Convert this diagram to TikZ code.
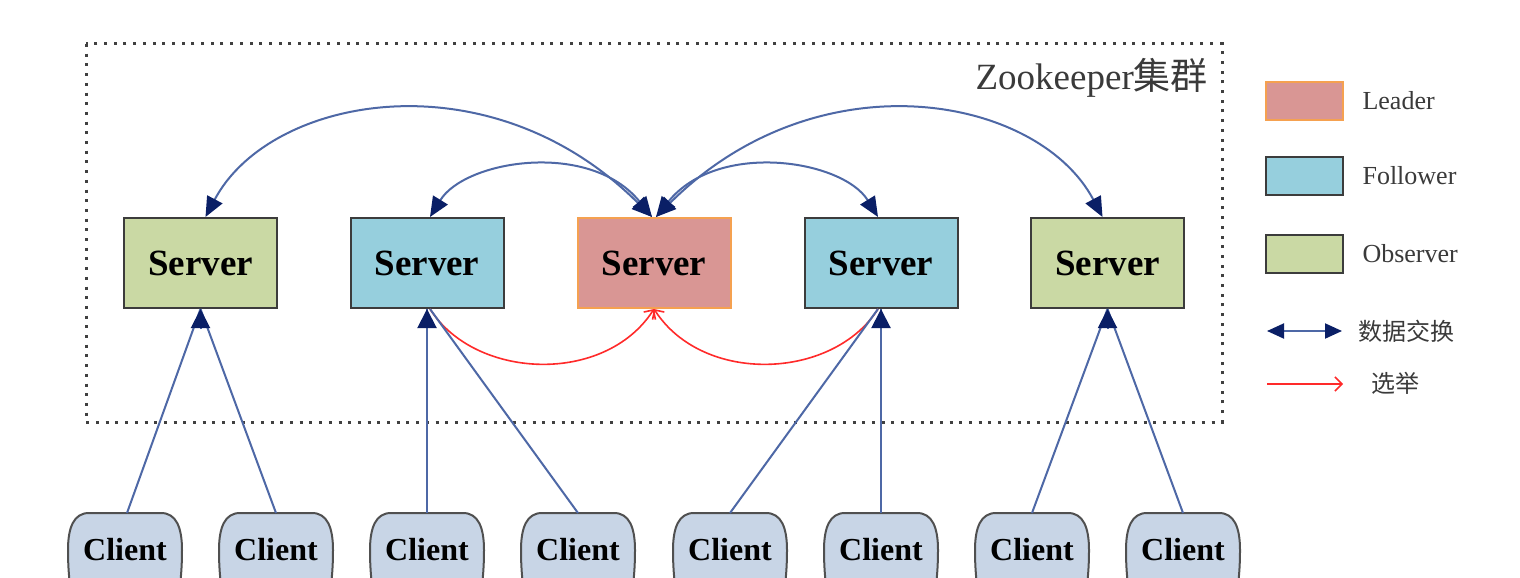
\documentclass[tikz,border=0pt]{standalone}
\usepackage{fontspec}
\setmainfont{Liberation Serif}
\newfontfamily\cjk{Noto Sans CJK SC}
\usetikzlibrary{arrows.meta}
\definecolor{obsgreen}{HTML}{CAD9A4}
\definecolor{folblue}{HTML}{96CFDD}
\definecolor{leadred}{HTML}{D99694}
\definecolor{leadorange}{HTML}{F5A150}
\definecolor{boxedge}{HTML}{3C3C3C}
\definecolor{clientfill}{HTML}{C8D5E6}
\definecolor{lineblue}{HTML}{4E68A6}
\definecolor{tipnavy}{HTML}{0A1F66}
\definecolor{textgray}{HTML}{3A3A3A}
\definecolor{electred}{HTML}{FF2A2A}
\begin{document}
\begin{tikzpicture}[x=1pt,y=-1pt,
  server/.style={draw=boxedge,line width=2pt,minimum width=153pt,minimum height=90pt,inner sep=0pt,font=\fontsize{37}{40}\selectfont\bfseries},
  client/.style={minimum width=114pt,text height=47pt,text depth=60pt,inner xsep=0pt,inner ysep=0pt,anchor=north,font=\fontsize{32}{34}\selectfont\bfseries},
  clientshape/.style={draw=boxedge!90,line width=2pt,fill=clientfill},
  dx/.style={draw=lineblue,line width=2pt,{Triangle[length=20pt,width=17pt,color=tipnavy]}-{Triangle[length=20pt,width=17pt,color=tipnavy]}},
  clline/.style={draw=lineblue,line width=2pt},
  cltip/.style={draw=lineblue,line width=2pt,-{Triangle[length=19pt,width=19pt,color=tipnavy]}},
  elect/.style={draw=electred,line width=1.6pt,-{Straight Barb[length=7pt,width=14pt]}},
  dotframe/.style={draw=black!75,line width=3pt,dash pattern=on 3pt off 6.7pt},
  legbox/.style={line width=2pt,minimum width=77pt,minimum height=38pt,inner sep=0pt},
  legtext/.style={anchor=west,text=textgray,font=\fontsize{26}{28}\selectfont},
  legcjk/.style={anchor=west,text=textgray,font=\cjk\fontsize{24}{26}\selectfont},
]
\useasboundingbox (0,0) rectangle (1520,578);
\clip (0,0) rectangle (1520,578);
\fill[white] (0,0) rectangle (1520,578);

% cluster frame
\draw[dotframe] (86,44) rectangle (1222,422);
\node[anchor=east,text=textgray,font=\fontsize{37}{40}\selectfont,inner sep=0pt] (title) at (1208,78) {Zookeeper{\cjk 集群}};

% servers
\node[server,fill=obsgreen] (s1) at (200.5,263) {Server};
\node[server,fill=folblue] (s2) at (427,263) {Server};
\node[server,fill=leadred,draw=leadorange] (s3) at (654,263) {Server};
\node[server,fill=folblue] (s4) at (881,263) {Server};
\node[server,fill=obsgreen] (s5) at (1107.5,263) {Server};

% client outlines
\foreach \cx in {125,276,427,578,730,881,1032,1183}{
  \filldraw[clientshape] ({\cx-36},513) -- ({\cx+36},513)
    .. controls ({\cx+51},513) and ({\cx+57},527) .. ({\cx+57},550)
    .. controls ({\cx+57},572) and ({\cx+55},592) .. ({\cx+50},612)
    -- ({\cx-50},612)
    .. controls ({\cx-55},592) and ({\cx-57},572) .. ({\cx-57},550)
    .. controls ({\cx-57},527) and ({\cx-51},513) .. cycle;
}
% clients
\node[client] (c1) at (125,513) {Client};
\node[client] (c2) at (276,513) {Client};
\node[client] (c3) at (427,513) {Client};
\node[client] (c4) at (578,513) {Client};
\node[client] (c5) at (730,513) {Client};
\node[client] (c6) at (881,513) {Client};
\node[client] (c7) at (1032,513) {Client};
\node[client] (c8) at (1183,513) {Client};

% data exchange arcs
\draw[dx] ([xshift=5pt]s1.north) .. controls (270,95) and (490,55) .. ([xshift=-2pt]s3.north);
\draw[dx] ([xshift=3pt]s2.north) .. controls (465,160) and (590,140) .. ([xshift=-2pt]s3.north);
\draw[dx] ([xshift=2pt]s3.north) .. controls (718,140) and (843,160) .. ([xshift=-3pt]s4.north);
\draw[dx] ([xshift=2pt]s3.north) .. controls (818,55) and (1038,95) .. ([xshift=-5pt]s5.north);

% election arcs
\draw[elect] ([xshift=3pt]s2.south) .. controls (475,380) and (605,385) .. (s3.south);
\draw[elect] ([xshift=-3pt]s4.south) .. controls (833,380) and (703,385) .. (s3.south);

% client connections
\draw[clline] ([xshift=2pt]c1.north) -- (s1.south);
\draw[clline] (c2.north) -- (s1.south);
\draw[clline] (c3.north) -- (s2.south);
\draw[clline] (c4.north) -- ([xshift=3pt]s2.south);
\draw[clline] (c5.north) -- ([xshift=-3pt]s4.south);
\draw[clline] (c6.north) -- (s4.south);
\draw[clline] (c7.north) -- (s5.south);
\draw[clline] (c8.north) -- (s5.south);
\foreach \s in {s1,s2,s4,s5}{
  \draw[cltip] ([yshift=-20pt]\s.south) -- (\s.south);
}

% legend
\node[legbox,fill=leadred,draw=leadorange] (lb1) at (1304.5,101) {};
\node[legtext] (lt1) at (1359,101) {Leader};
\node[legbox,fill=folblue,draw=boxedge] (lb2) at (1304.5,176) {};
\node[legtext] (lt2) at (1359,176) {Follower};
\node[legbox,fill=obsgreen,draw=boxedge] (lb3) at (1304.5,254) {};
\node[legtext] (lt3) at (1359,254) {Observer};
\coordinate (la1) at (1267,331);
\coordinate (la2) at (1342,331);
\draw[draw=lineblue,line width=2pt,{Triangle[length=17pt,width=15pt,color=tipnavy]}-{Triangle[length=17pt,width=15pt,color=tipnavy]}] (la1) -- (la2);
\node[legcjk] (lt4) at (1355,331) {数据交换};
\coordinate (lr1) at (1267,384);
\coordinate (lr2) at (1343,384);
\draw[elect] (lr1) -- (lr2);
\node[legcjk] (lt5) at (1368,383) {选举};
\end{tikzpicture}
\end{document}
